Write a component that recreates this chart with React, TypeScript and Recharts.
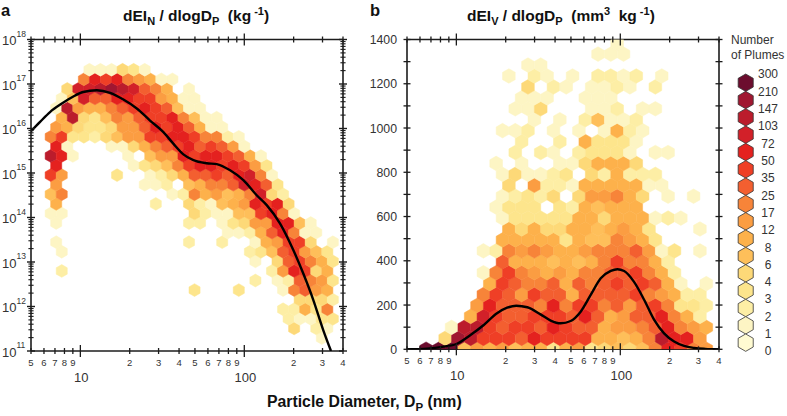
import React from 'react';
import { ComposedChart, Scatter, Line, XAxis, YAxis } from 'recharts';

// ---- colour classes (palest to darkest), with the legend's count boundaries
const levelCodes = 'abcdefghijklmnop';
const levelColours = ['#fffbd2', '#fdf5c4', '#fdeeA5', '#fde58c', '#fdd978', '#febf5a', '#fdb14b', '#fb9d42', '#f78439', '#f35f30', '#ef3f26', '#e4211f', '#d22029', '#bb1c2c', '#a01731', '#6c0d2e'];
const legendCounts = ['300', '210', '147', '103', '72', '50', '35', '25', '17', '12', '8', '6', '4', '3', '2', '1', '0'];

// ---- axis ticks
const diameterTicks = [5, 6, 7, 8, 9, 10, 20, 30, 40, 50, 60, 70, 80, 90, 100, 200, 300, 400];
const numberTicks = [
  1e11, 2e11, 3e11, 4e11, 5e11, 6e11, 7e11, 8e11, 9e11,
  1e12, 2e12, 3e12, 4e12, 5e12, 6e12, 7e12, 8e12, 9e12,
  1e13, 2e13, 3e13, 4e13, 5e13, 6e13, 7e13, 8e13, 9e13,
  1e14, 2e14, 3e14, 4e14, 5e14, 6e14, 7e14, 8e14, 9e14,
  1e15, 2e15, 3e15, 4e15, 5e15, 6e15, 7e15, 8e15, 9e15,
  1e16, 2e16, 3e16, 4e16, 5e16, 6e16, 7e16, 8e16, 9e16,
  1e17, 2e17, 3e17, 4e17, 5e17, 6e17, 7e17, 8e17, 9e17,
  1e18,
];
const volumeTicks = [0, 100, 200, 300, 400, 500, 600, 700, 800, 900, 1000, 1100, 1200, 1300, 1400];
const volumeLabels = [0, 200, 400, 600, 800, 1000, 1200, 1400];

// ---- panel a: hexagon bins
const binLogDiameterA = [0.7177, 0.7515, 0.7852, 0.819, 0.8527, 0.8865, 0.9202, 0.954, 0.9877, 1.0215, 1.0552, 1.089, 1.1227, 1.1565, 1.1902, 1.224, 1.2577, 1.2915, 1.3252, 1.359, 1.3927, 1.4265, 1.4602, 1.494, 1.5277, 1.5615, 1.5952, 1.629, 1.6627, 1.6965, 1.7302, 1.764, 1.7977, 1.8315, 1.8652, 1.899, 1.9327, 1.9665, 2.0002, 2.034, 2.0677, 2.1015, 2.1352, 2.169, 2.2027, 2.2365, 2.2702, 2.304, 2.3377, 2.3715, 2.4052, 2.439, 2.4727, 2.5065, 2.5402, 2.574];
const rowLogNumberA = [11.292, 11.507, 11.723, 11.938, 12.153, 12.369, 12.584, 12.799, 13.014, 13.23, 13.445, 13.66, 13.876, 14.091, 14.306, 14.522, 14.737, 14.952, 15.167, 15.383, 15.598, 15.813, 16.029, 16.244, 16.459, 16.675, 16.89, 17.105, 17.32];
// one entry per row, bottom to top: [half-column shift, first column, class letters]
const rowBinsA: [number, number, string][] = [
  [0, 26, 'b'],
  [1, 23, 'e.cb'],
  [0, 23, 'cbbdd'],
  [1, 22, 'ccgdi'],
  [0, 24, 'eeec'],
  [1, 14, 'd...d...bijhg'],
  [0, 20, 'c.bcjihd'],
  [1, 2, 'c..................chlkeg'],
  [0, 20, 'b.ejkigd'],
  [1, 2, 'b................cdfjkhfd'],
  [0, 2, 'b...........c..c..bghkke.b'],
  [1, 17, 'bbcgjlibb'],
  [0, 2, 'b...........cc.bdehhllfb'],
  [1, 1, 'bb...........ecbbffklib'],
  [0, 2, 'g........c..ecbfghlkle'],
  [1, 1, 'fi.........bcighfgimec'],
  [0, 2, 'h.......bbc.fgiijmljd'],
  [1, 1, 'kh....d..bcegjjkjlmib'],
  [0, 2, 'l......bdefikllklkhd'],
  [1, 1, 'nlb....b.fhhlkllkjgb'],
  [0, 2, 'lb...bbegijkljkjhb'],
  [1, 1, 'ikddcefhhkkllkiicb'],
  [0, 2, 'hgeddehhjlkljgbb'],
  [1, 2, 'gnedfihjkklifbb'],
  [0, 2, 'bnhggijklkjfbb'],
  [1, 2, 'bfmjjllkkhgbb'],
  [0, 3, 'emmnonmjig.b'],
  [1, 4, 'ilklihgbb'],
  [0, 5, 'bbbedb'],
];

// ---- panel a: fitted curve
const curveDiameterA = [5, 5.68, 6.53, 7.71, 9.06, 10.4, 12.6, 15.2, 18.3, 22.1, 26.6, 32.1, 36.9, 42.5, 48.9, 59, 67.9, 81.9, 98.7, 119, 137, 165, 199, 229, 264, 303, 338];
const curveNumberA = [8.7e15, 1.41e16, 2.34e16, 3.63e16, 5.25e16, 6.6e16, 7.24e16, 6.31e16, 4.47e16, 2.82e16, 1.51e16, 8.3e15, 4.57e15, 2.63e15, 1.95e15, 1.66e15, 1.58e15, 1.15e15, 6.9e14, 3.16e14, 1.9e14, 7.4e13, 1.86e13, 5.5e12, 1.38e12, 2.95e11, 1e11];

// ---- panel b: hexagon bins
const binLogDiameterB = [0.4659, 0.5048, 0.5436, 0.5825, 0.6213, 0.6602, 0.699, 0.7378, 0.7766, 0.8154, 0.8543, 0.8931, 0.932, 0.9708, 1.0097, 1.0485, 1.0873, 1.1262, 1.165, 1.2039, 1.2427, 1.2816, 1.3204, 1.3593, 1.3981, 1.4369, 1.4758, 1.5146, 1.5535, 1.5923, 1.6312, 1.67, 1.7089, 1.7477, 1.7865, 1.8254, 1.8642, 1.9031, 1.9419, 1.9808, 2.0196, 2.0585, 2.0973, 2.1361, 2.175, 2.2138, 2.2527, 2.2915, 2.3304, 2.3692, 2.4081, 2.4469, 2.4857, 2.5246, 2.5634];
const rowVolumeB = [0.3, 49.7, 99.1, 148.5, 197.9, 247.3, 296.7, 346, 395.4, 444.8, 494.2, 543.6, 593, 642.4, 691.8, 741.2, 790.6, 839.9, 889.3, 938.7, 988.1, 1037.5, 1086.9, 1136.3, 1185.7, 1235.1, 1284.5, 1333.9, 1383.2];
const rowBinsB: [number, number, string][] = [
  [1, 4, 'pppfhghfggdghdefefilkih'],
  [0, 6, 'eonkkkjlkkkkggfginllh'],
  [1, 6, 'bnnkjkkjlkjjghhijlihg'],
  [0, 8, 'gmkjjkkkjljghjjligc'],
  [1, 8, 'hljjjilikkijhjkiddc'],
  [0, 9, 'ikjhkjjgjjjjkihgcc'],
  [1, 9, 'gkjiijgjijkjkjgb.b'],
  [0, 9, 'bikihghgiijjkigc'],
  [1, 10, 'jgggfgfgikiigc'],
  [0, 9, 'bcihihgghiiijhbd.b'],
  [1, 10, 'gggggdgffihgd'],
  [0, 11, 'gegeeggfghgd...b'],
  [1, 10, 'bdddddggegggbcb'],
  [0, 10, 'bddd.dcgfggg'],
  [1, 10, 'bcdce.ehhige.b.b'],
  [0, 11, 'e.hccbgggggbb'],
  [1, 10, 'bebbcd.ecgccc'],
  [0, 10, 'b.b..bbeggge'],
  [1, 11, 'c.cb.cdddb.bb'],
  [0, 12, 'c..c.gdddb'],
  [1, 10, 'bbc.b.b.bgcb'],
  [0, 13, 'b.b.cfbbc'],
  [1, 11, 'bbe...bbc.bb'],
  [0, 12, 'bbb..bbb'],
  [1, 12, 'e.cb.bbcb.c'],
  [0, 11, 'b.cb.b.ccbc.b'],
  [1, 12, 'bb'],
  [0, 18, 'bbb'],
  [1, 19, 'b'],
];

// ---- panel b: fitted curve
const curveDiameterB = [5.01, 6.62, 8.36, 10, 12.2, 14.7, 17.7, 20.4, 23.2, 27.1, 32.6, 37.6, 43.3, 49.8, 57.3, 66, 76, 87.5, 96, 105.5, 121, 140, 161, 185, 213, 245, 283, 330, 400];
const curveVolumeB = [0, 3, 12, 24, 65, 110, 163, 188, 197, 190, 158, 130, 117.5, 128, 170, 246, 321, 354, 362, 354, 306, 223, 133, 72, 35, 15, 6, 2, 0];

type Bin = { x: number; y: number; level: number };

const expandBins = (
  rows: [number, number, string][],
  centres: number[],
  rowY: number[],
  toValue: (v: number) => number,
): Bin[] =>
  rows.flatMap(([shift, first, codes], r) =>
    codes.split('').flatMap((code, k) => {
      const level = levelCodes.indexOf(code);
      if (level < 0) return [];
      return [{ x: 10 ** centres[(first + k) * 2 + shift], y: toValue(rowY[r]), level }];
    }),
  );

const binsA = expandBins(rowBinsA, binLogDiameterA, rowLogNumberA, (v) => 10 ** v);
const binsB = expandBins(rowBinsB, binLogDiameterB, rowVolumeB, (v) => v);
const curveA = curveDiameterA.map((x, i) => ({ x, y: curveNumberA[i] }));
const curveB = curveDiameterB.map((x, i) => ({ x, y: curveVolumeB[i] }));

const W = 787;
const H = 416;
const FONT = '"Liberation Sans", Arial, sans-serif';
const INK = '#1c1c1c';
const LABEL = '#333333';
const plotA = { left: 31, right: 343, top: 39.5, bottom: 351 };
const plotB = { left: 407, right: 719, top: 39.5, bottom: 349.3 };

const hexPoints = (cx: number, cy: number, R: number, top: number, bottom: number) => {
  const w = (R * Math.sqrt(3)) / 2;
  const vertices = [[0, -R], [w, -R / 2], [w, R / 2], [0, R], [-w, R / 2], [-w, -R / 2]];
  return vertices
    .map(([dx, dy]) => `${cx + dx},${Math.max(top, Math.min(bottom, cy + dy))}`)
    .join(' ');
};

const makeHexShape = (R: number, plot: typeof plotA) => (props: any) => {
  const { cx, cy, payload } = props;
  const level = payload?.level ?? props.level;
  const colour = levelColours[level];
  return <polygon points={hexPoints(cx, cy, R, plot.top, plot.bottom)} fill={colour} stroke={colour} strokeWidth={0.5} />;
};

const tickStroke = { stroke: INK, strokeWidth: 1.3 };

// X axis ticks: crossing marks, with digit labels on the bottom axis only
const XTick = (withLabels: boolean) => (props: any) => {
  const { x, y, payload } = props;
  const v = payload.value as number;
  const major = v === 10 || v === 100;
  const half = major ? 6 : 3;
  const digit = v < 10 ? v : v < 100 ? v / 10 : v / 100;
  return (
    <g>
      <line x1={x} x2={x} y1={y - half} y2={y + half} {...tickStroke} />
      {withLabels && !major && (
        <text x={x} y={y + 15} textAnchor="middle" fontFamily={FONT} fontSize={9.5} fill={LABEL}>{digit}</text>
      )}
      {withLabels && major && (
        <text x={x + 1} y={y + 31} textAnchor="middle" fontFamily={FONT} fontSize={13} fill={LABEL}>{v}</text>
      )}
    </g>
  );
};

const LogYTick = (withLabels: boolean) => (props: any) => {
  const { x, y, payload } = props;
  const v = payload.value as number;
  const exponent = Math.round(Math.log10(v));
  const major = Math.abs(Math.log10(v) - exponent) < 1e-6;
  const half = major ? 4 : 2.6;
  return (
    <g>
      <line x1={x - half} x2={x + half} y1={y} y2={y} stroke={INK} strokeWidth={major ? 1.4 : 1.1} />
      {withLabels && major && (
        <text x={x - 29} y={y + 5.5} fontFamily={FONT} fontSize={13} fill={LABEL}>
          10<tspan dy={-8.5} fontSize={8.5}>{exponent}</tspan>
        </text>
      )}
    </g>
  );
};

const LinYTick = (withLabels: boolean) => (props: any) => {
  const { x, y, payload } = props;
  const v = payload.value as number;
  return (
    <g>
      <line x1={x - 3.5} x2={x + 3.5} y1={y} y2={y} {...tickStroke} />
      {withLabels && volumeLabels.includes(v) && (
        <text x={x - 10} y={y + 4.5} textAnchor="end" fontFamily={FONT} fontSize={12.3} fill={LABEL}>{v}</text>
      )}
    </g>
  );
};

const axisLine = { stroke: INK, strokeWidth: 1.6 };

const Panel = ({ plot, bins, curve, R, yScale, yDomain, yTicks, YTick }: any) => (
  <div style={{ position: 'absolute', left: 0, top: 0 }}>
    <ComposedChart
      width={W}
      height={H}
      margin={{ left: plot.left - 1, right: W - plot.right - 1, top: plot.top - 1, bottom: H - plot.bottom - 1 }}
    >
      <XAxis xAxisId="bottom" dataKey="x" type="number" scale="log" domain={[5, 400]} ticks={diameterTicks} interval={0} height={1} tickSize={0} tickMargin={0} tickLine={false} axisLine={axisLine} tick={XTick(true)} allowDataOverflow />
      <XAxis xAxisId="top" orientation="top" dataKey="x" type="number" scale="log" domain={[5, 400]} ticks={diameterTicks} interval={0} height={1} tickSize={0} tickMargin={0} tickLine={false} axisLine={axisLine} tick={XTick(false)} allowDataOverflow />
      <YAxis yAxisId="left" dataKey="y" type="number" scale={yScale} domain={yDomain} ticks={yTicks} interval={0} width={1} tickSize={0} tickMargin={0} tickLine={false} axisLine={axisLine} tick={YTick(true)} allowDataOverflow />
      <YAxis yAxisId="right" orientation="right" dataKey="y" type="number" scale={yScale} domain={yDomain} ticks={yTicks} interval={0} width={1} tickSize={0} tickMargin={0} tickLine={false} axisLine={axisLine} tick={YTick(false)} allowDataOverflow />
      <Scatter data={bins} dataKey="y" xAxisId="bottom" yAxisId="left" shape={makeHexShape(R, plot)} isAnimationActive={false} />
      <Line data={curve} dataKey="y" xAxisId="bottom" yAxisId="left" type="monotone" dot={false} stroke="#000000" strokeWidth={2.4} isAnimationActive={false} zIndex={700} />
    </ComposedChart>
  </div>
);

const Sub = ({ children, size = 11 }: any) => <tspan dy={3.5} fontSize={size}>{children}</tspan>;
const Reset = ({ children, dy = -3.5 }: any) => <tspan dy={dy}>{children}</tspan>;

const Annotations = () => (
  <svg width={W} height={H} style={{ position: 'absolute', left: 0, top: 0, pointerEvents: 'none' }}>
    <g fontFamily={FONT} fill="#111111" fontWeight={700}>
      <text x={1} y={15.5} fontSize={16.5}>a</text>
      <text x={370} y={15.5} fontSize={16.5}>b</text>
      <text x={123} y={21} fontSize={15.5} xmlSpace="preserve">
        dEI<Sub>N</Sub><Reset> / dlogD</Reset><Sub>P</Sub><Reset>  (kg</Reset><tspan dy={-6} fontSize={11}> -1</tspan><tspan dy={6}>)</tspan>
      </text>
      <text x={467} y={21} fontSize={15.5} xmlSpace="preserve">
        dEI<Sub>V</Sub><Reset> / dlogD</Reset><Sub>P</Sub><Reset>  (mm</Reset><tspan dy={-6} fontSize={11}>3</tspan><tspan dy={6}>  kg</tspan><tspan dy={-6} fontSize={11}> -1</tspan><tspan dy={6}>)</tspan>
      </text>
      <text x={267} y={407} fontSize={15.8}>
        Particle Diameter, D<Sub size={11.5}>P</Sub><Reset> (nm)</Reset>
      </text>
    </g>
    <g fontFamily={FONT} fill={LABEL} fontSize={12}>
      <text x={731} y={43.5}>Number</text>
      <text x={731} y={58.5}>of Plumes</text>
      {legendCounts.map((label, i) => (
        <text key={label} x={768} y={78.2 + i * 17.33} textAnchor="middle">{label}</text>
      ))}
    </g>
    {levelColours.map((_, i) => {
      const colour = levelColours[levelColours.length - 1 - i];
      return (
        <polygon
          key={colour}
          points={hexPoints(745.7, 82.7 + i * 17.33, 8.7, 0, H)}
          fill={colour}
          stroke="#333333"
          strokeWidth={0.8}
        />
      );
    })}
  </svg>
);

export default function App() {
  return (
    <div style={{ position: 'absolute', left: 0, top: 0, width: W, height: H, background: '#ffffff' }}>
      <Panel plot={plotA} bins={binsA} curve={curveA} R={6.4} yScale="log" yDomain={[1e11, 1e18]} yTicks={numberTicks} YTick={LogYTick} />
      <Panel plot={plotB} bins={binsB} curve={curveB} R={7.33} yScale="linear" yDomain={[0, 1400]} yTicks={volumeTicks} YTick={LinYTick} />
      <Annotations />
    </div>
  );
}
